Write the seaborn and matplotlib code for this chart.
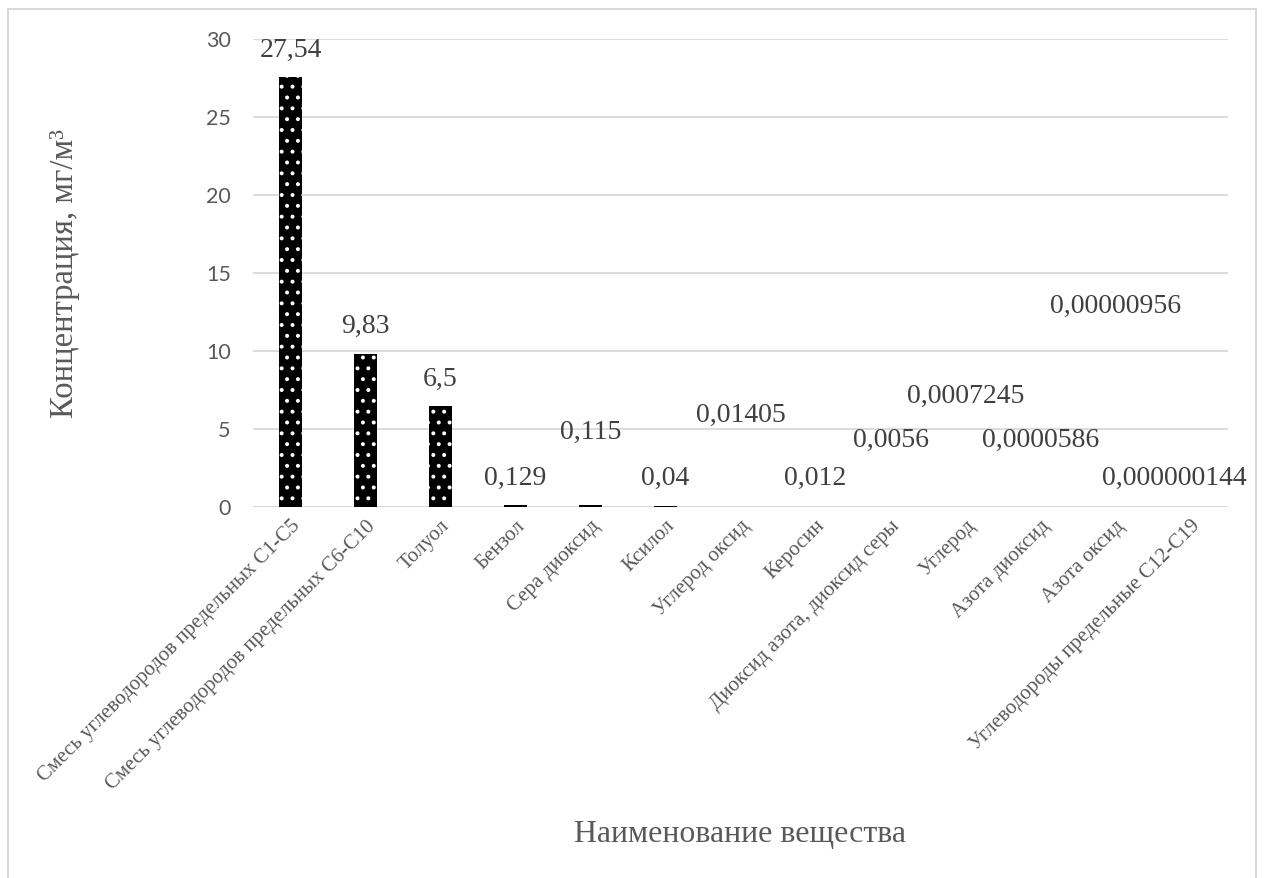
import numpy as np
import pandas as pd
import matplotlib
matplotlib.use("Agg")
import matplotlib.pyplot as plt
from matplotlib.patches import Rectangle
import seaborn as sns

# Substances and measured concentrations, mg/m3
substances = [
    "Смесь углеводородов предельных C1-C5",
    "Смесь углеводородов предельных C6-C10",
    "Толуол",
    "Бензол",
    "Сера диоксид",
    "Ксилол",
    "Углерод оксид",
    "Керосин",
    "Диоксид азота, диоксид серы",
    "Углерод",
    "Азота диоксид",
    "Азота оксид",
    "Углеводороды предельные C12-C19",
]
concentrations = [27.54, 9.83, 6.5, 0.129, 0.115, 0.04, 0.01405, 0.012,
                  0.0056, 0.0007245, 0.0000586, 0.00000956, 0.000000144]

# Where each value label sits (data units) and its sideways nudge (categories)
label_y = [29.3, 11.55, 8.2, 1.85, 4.75, 1.85, 5.85, 1.85, 4.25, 7.1, 4.25, 12.85, 1.85]
label_dx = [0, 0, 0, 0, 0, 0, 0, 0, 0, 0, 0, 0, -0.21]

y_ticks = [0, 5, 10, 15, 20, 25, 30]

df = pd.DataFrame({"substance": substances, "conc": concentrations})

# Rendering at 130 dpi gives a dot pattern spacing of about 11 px;
# sizes below are written for 100 dpi and rescaled by S.
DPI = 130
S = 100 / DPI

sns.set_style("white")
plt.rcParams["font.family"] = ["Liberation Serif", "DejaVu Serif"]
plt.rcParams["hatch.linewidth"] = 1.3 * S

W, H = 1265, 878
fig = plt.figure(figsize=(W / DPI, H / DPI), dpi=DPI)
ax = fig.add_axes([253 / W, 1 - 507 / H, 975 / W, 468 / H])

sns.barplot(data=df, x="substance", y="conc", ax=ax, color="black",
            saturation=1, width=0.31, edgecolor="white", linewidth=0,
            hatch="..")

ax.set_ylim(0, 30)
ax.set_xlim(-0.5, len(substances) - 0.5)
ax.set_yticks(y_ticks)
ax.set_yticklabels([str(t) for t in y_ticks], fontfamily="Lato",
                   fontsize=15.5 * S, color="#595959")
ax.tick_params(axis="y", length=0, pad=16 * S)
ax.tick_params(axis="x", length=0, pad=7 * S)
ax.set_xticks(range(len(substances)))
ax.set_xticklabels(substances, rotation=45, ha="right",
                   rotation_mode="anchor", fontsize=15 * S, color="#595959")

for s in ax.spines.values():
    s.set_visible(False)
ax.yaxis.grid(True, color="#d9d9d9", linewidth=1.3 * S)
ax.set_axisbelow(True)
ax.axhline(0, color="#d9d9d9", linewidth=1.3 * S, zorder=0.5)

# Value labels
for i, (v, ly, dx) in enumerate(zip(concentrations, label_y, label_dx)):
    txt = np.format_float_positional(v, trim="-").replace(".", ",")
    ax.text(i + dx, ly, txt, ha="center", va="center", fontsize=20 * S,
            color="#404040")

ax.set_xlabel("Наименование вещества", fontsize=23 * S, color="#595959")
ax.xaxis.set_label_coords(0.5, -0.70)
ax.xaxis.label.set_va("center")
ax.set_ylabel("Концентрация, мг/м³", fontsize=23.5 * S, color="#595959")
ax.yaxis.set_label_coords(-0.193, 0.5)
ax.yaxis.label.set_va("center")

# Chart frame
fig.patches.append(Rectangle((8 / W, -0.01), 1248 / W, 1 - 9 / H + 0.01,
                             transform=fig.transFigure, fill=False,
                             edgecolor="#d9d9d9", linewidth=1.5 * S))

fig.savefig("out.png", dpi=DPI)
